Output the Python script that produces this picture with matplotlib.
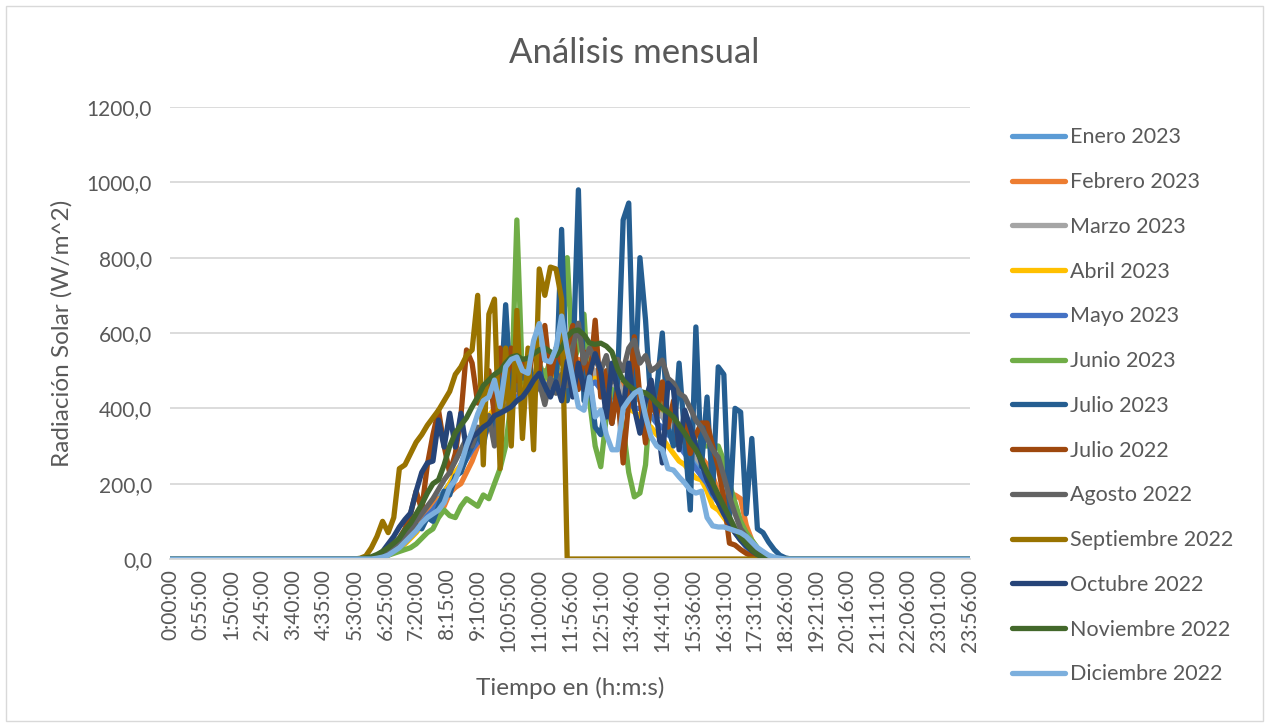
import numpy as np
import matplotlib.pyplot as plt
from matplotlib.patches import Rectangle

plt.rcParams['font.family'] = ['Lato', 'DejaVu Sans']

# ------------------------------
# Datos (W/m^2), muestreo cada 10 min desde las 5:20
# ------------------------------
time_labels = ["0:00:00", "0:55:00", "1:50:00", "2:45:00", "3:40:00", "4:35:00",
                "5:30:00", "6:25:00", "7:20:00", "8:15:00", "9:10:00", "10:05:00",
                "11:00:00", "11:56:00", "12:51:00", "13:46:00", "14:41:00", "15:36:00",
                "16:31:00", "17:31:00", "18:26:00", "19:21:00", "20:16:00", "21:11:00",
                "22:06:00", "23:01:00", "23:56:00"]
y_ticks = [0, 200, 400, 600, 800, 1000, 1200]
y_tick_labels = ["0,0", "200,0", "400,0", "600,0", "800,0", "1000,0", "1200,0"]

n_slots = 287          # categorias de 5 min en el eje
step = 2               # cada muestra = 2 categorias
day_start = 64         # 5:20

ene23 = [0, 0, 0, 0, 1, 3, 8, 15, 25, 35,
         50, 65, 85, 100, 120, 140, 160, 180, 200, 220,
         250, 270, 290, 320, 340, 360, 390, 400, 420, 440,
         450, 440, 470, 450, 480, 460, 470, 450, 480, 470,
         500, 480, 500, 470, 490, 460, 470, 440, 460, 430,
         450, 420, 430, 400, 410, 380, 380, 350, 340, 320,
         300, 280, 260, 240, 210, 190, 160, 130, 100, 75,
         55, 35, 20, 10, 4, 1]
feb23 = [0, 0, 0, 0, 1, 3, 7, 13, 22, 32,
         45, 60, 80, 100, 130, 150, 160, 140, 175, 190,
         200, 230, 260, 300, 320, 350, 370, 390, 410, 430,
         440, 470, 450, 490, 470, 500, 480, 510, 490, 520,
         500, 530, 500, 520, 490, 500, 470, 480, 450, 470,
         440, 450, 420, 430, 400, 410, 380, 370, 350, 340,
         320, 300, 290, 270, 250, 220, 180, 175, 170, 170,
         160, 90, 50, 25, 10, 3]
mar23 = [0, 0, 0, 0, 0, 2, 6, 12, 20, 30,
         42, 56, 72, 90, 110, 130, 150, 175, 200, 225,
         250, 280, 300, 330, 350, 370, 390, 410, 420, 440,
         450, 460, 470, 460, 480, 470, 490, 470, 500, 480,
         500, 490, 510, 480, 500, 470, 480, 460, 470, 440,
         450, 430, 440, 410, 420, 390, 380, 360, 350, 330,
         310, 290, 270, 250, 230, 200, 170, 140, 110, 85,
         60, 40, 25, 12, 5, 1]
abr23 = [0, 0, 0, 0, 0, 2, 5, 10, 18, 28,
         40, 55, 70, 90, 110, 130, 150, 175, 200, 230,
         250, 280, 310, 330, 360, 380, 400, 420, 430, 450,
         460, 450, 470, 480, 470, 490, 470, 500, 480, 510,
         490, 480, 500, 470, 480, 450, 460, 440, 430, 420,
         400, 390, 380, 360, 350, 330, 320, 300, 280, 260,
         250, 230, 215, 210, 180, 140, 130, 110, 90, 70,
         50, 35, 20, 10, 4, 1]
may23 = [0, 0, 0, 0, 0, 2, 6, 12, 20, 30,
         45, 60, 75, 95, 115, 130, 150, 170, 190, 215,
         240, 265, 290, 310, 330, 350, 370, 390, 400, 420,
         430, 440, 450, 440, 460, 450, 470, 450, 470, 460,
         480, 470, 480, 460, 470, 450, 450, 430, 440, 410,
         420, 400, 400, 380, 380, 360, 350, 330, 320, 300,
         280, 260, 240, 220, 200, 170, 150, 120, 95, 70,
         50, 32, 18, 8, 3]
jun23 = [0, 0, 0, 0, 0, 2, 5, 10, 15, 20,
         25, 30, 40, 55, 70, 80, 110, 130, 115, 110,
         140, 160, 150, 140, 170, 160, 200, 240, 300, 420,
         900, 470, 500, 450, 520, 480, 530, 500, 540, 800,
         520, 560, 650, 420, 300, 245, 380, 450, 420, 350,
         230, 165, 175, 250, 450, 430, 400, 380, 370, 350,
         340, 320, 310, 300, 300, 300, 300, 260, 200, 150,
         100, 70, 50, 30, 15, 5, 2]
jul23 = [0, 0, 0, 0, 3, 8, 15, 25, 35, 50,
         60, 75, 90, 80, 110, 100, 140, 180, 170, 220,
         230, 270, 300, 330, 300, 380, 350, 400, 675, 420,
         520, 480, 540, 460, 520, 420, 480, 450, 875, 420,
         500, 980, 420, 480, 350, 330, 420, 360, 470, 900,
         945, 400, 800, 635, 400, 450, 600, 350, 300, 520,
         325, 130, 616, 245, 430, 175, 510, 490, 105, 400,
         390, 120, 320, 80, 70, 45, 25, 10, 3]
jul22 = [0, 0, 0, 0, 2, 6, 12, 22, 35, 55,
         80, 120, 180, 130, 250, 330, 395, 300, 228, 280,
         380, 555, 520, 414, 420, 500, 380, 560, 450, 560,
         450, 520, 480, 560, 500, 620, 480, 560, 520, 560,
         620, 450, 550, 470, 634, 430, 500, 360, 450, 255,
         420, 590, 430, 308, 420, 380, 470, 350, 420, 300,
         380, 280, 330, 361, 361, 300, 245, 160, 42, 37,
         25, 15, 8, 3]
ago22 = [0, 0, 0, 0, 1, 4, 10, 18, 28, 40,
         55, 75, 100, 120, 140, 160, 185, 210, 230, 260,
         290, 320, 300, 350, 340, 380, 300, 420, 430, 440,
         460, 420, 480, 430, 470, 410, 480, 440, 490, 460,
         560, 626, 520, 560, 530, 500, 540, 470, 530, 500,
         560, 581, 520, 540, 500, 510, 528, 480, 467, 440,
         430, 400, 368, 350, 320, 290, 270, 220, 165, 120,
         80, 60, 43, 25, 12, 5]
sep22 = [0, 0, 2, 8, 30, 60, 100, 70, 110, 240,
         250, 280, 310, 330, 355, 375, 395, 420, 445, 490,
         510, 540, 555, 700, 250, 650, 690, 240, 560, 300,
         660, 320, 560, 290, 770, 700, 775, 770, 690]
oct22 = [0, 0, 0, 0, 2, 8, 20, 40, 60, 85,
         105, 122, 180, 230, 255, 260, 369, 297, 387, 297,
         387, 290, 324, 335, 350, 360, 380, 387, 395, 404,
         420, 430, 450, 475, 493, 460, 430, 470, 420, 525,
         430, 520, 450, 490, 545, 500, 377, 520, 450, 396,
         520, 400, 334, 420, 475, 380, 255, 467, 450, 290,
         395, 350, 300, 255, 210, 180, 150, 120, 95, 70,
         50, 35, 22, 12, 6, 2]
nov22 = [0, 0, 1, 3, 6, 12, 20, 30, 42, 55,
         77, 95, 120, 145, 175, 200, 210, 250, 300, 335,
         355, 375, 404, 430, 460, 475, 490, 500, 520, 536,
         540, 530, 533, 545, 555, 560, 550, 540, 560, 590,
         605, 608, 595, 573, 570, 573, 565, 550, 505, 475,
         460, 449, 445, 441, 430, 414, 400, 390, 377, 355,
         334, 310, 290, 263, 230, 202, 170, 140, 111, 80,
         58, 40, 24, 12, 5, 1]
dic22 = [0, 0, 0, 0, 0, 2, 5, 10, 20, 30,
         45, 60, 75, 95, 110, 120, 130, 150, 190, 210,
         250, 300, 340, 385, 420, 430, 475, 404, 510, 530,
         536, 500, 493, 580, 625, 528, 523, 560, 645, 555,
         480, 404, 395, 483, 377, 395, 330, 290, 290, 400,
         422, 440, 449, 380, 324, 300, 290, 240, 236, 218,
         202, 183, 175, 180, 110, 88, 85, 85, 80, 75,
         70, 60, 45, 30, 20, 10, 5, 2]

series_names = ["Enero 2023", "Febrero 2023", "Marzo 2023", "Abril 2023", "Mayo 2023",
                "Junio 2023", "Julio 2023", "Julio 2022", "Agosto 2022", "Septiembre 2022",
                "Octubre 2022", "Noviembre 2022", "Diciembre 2022"]
series_values = [ene23, feb23, mar23, abr23, may23, jun23, jul23,
                 jul22, ago22, sep22, oct22, nov22, dic22]
colors = ["#5B9BD5", "#ED7D31", "#A5A5A5", "#FFC000", "#4472C4", "#70AD47", "#255E91",
          "#9E480E", "#636363", "#997300", "#264478", "#43682B", "#7CAFDD"]

x_full = np.arange(0, n_slots, step)


def full_day(day):
    lead = [0.0] * (day_start // step)
    tail = [0.0] * (len(x_full) - len(lead) - len(day))
    return np.array(lead + day + tail, dtype=float)


# ------------------------------
# Grafica
# ------------------------------
fig = plt.figure(figsize=(12.69, 7.27), dpi=100)
ax = fig.add_axes([170 / 1269, 1 - 559 / 727, 800 / 1269, 452 / 727])

for name, vals, col in zip(series_names, series_values, colors):
    ax.plot(x_full, full_day(vals), color=col, lw=3.8, label=name,
            solid_joinstyle='round', solid_capstyle='round')

ax.set_xlim(0, n_slots - 1)
ax.set_ylim(0, 1200)
ax.set_yticks(y_ticks)
ax.set_yticklabels(y_tick_labels)
ax.set_xticks(np.arange(0, n_slots, 11))
ax.set_xticklabels(time_labels, rotation=90)
ax.yaxis.grid(True, color='#D9D9D9', lw=1.3)
ax.set_axisbelow(True)
for s in ['top', 'right', 'left']:
    ax.spines[s].set_visible(False)
ax.spines['bottom'].set_color('#D9D9D9')
ax.spines['bottom'].set_linewidth(1.3)
ax.tick_params(axis='both', length=0, labelsize=15, colors='#595959')
ax.tick_params(axis='y', pad=13)
ax.tick_params(axis='x', pad=7)

fig.text(0.5, 1 - 53 / 727, "Análisis mensual", ha='center', va='center',
         fontsize=25, color='#595959')
fig.text(570 / 1269, 1 - 688 / 727, "Tiempo en (h:m:s)", ha='center', va='center',
         fontsize=17.5, color='#595959')
fig.text(62 / 1269, 1 - 333 / 727, "Radiación Solar (W/m^2)", ha='center', va='center',
         rotation=90, fontsize=17.5, color='#595959')

leg = fig.legend(loc='upper left', bbox_to_anchor=(993 / 1269, 1 - 108 / 727),
                 frameon=False, fontsize=15.5, handlelength=2.45, handletextpad=0.22,
                 labelspacing=1.15)
for t in leg.get_texts():
    t.set_color('#595959')

fig.add_artist(Rectangle((6 / 1269, 6 / 727), 1 - 12 / 1269, 1 - 12 / 727,
                         transform=fig.transFigure, fill=False, ec='#D9D9D9', lw=1))

fig.savefig("out.png", dpi=100)
